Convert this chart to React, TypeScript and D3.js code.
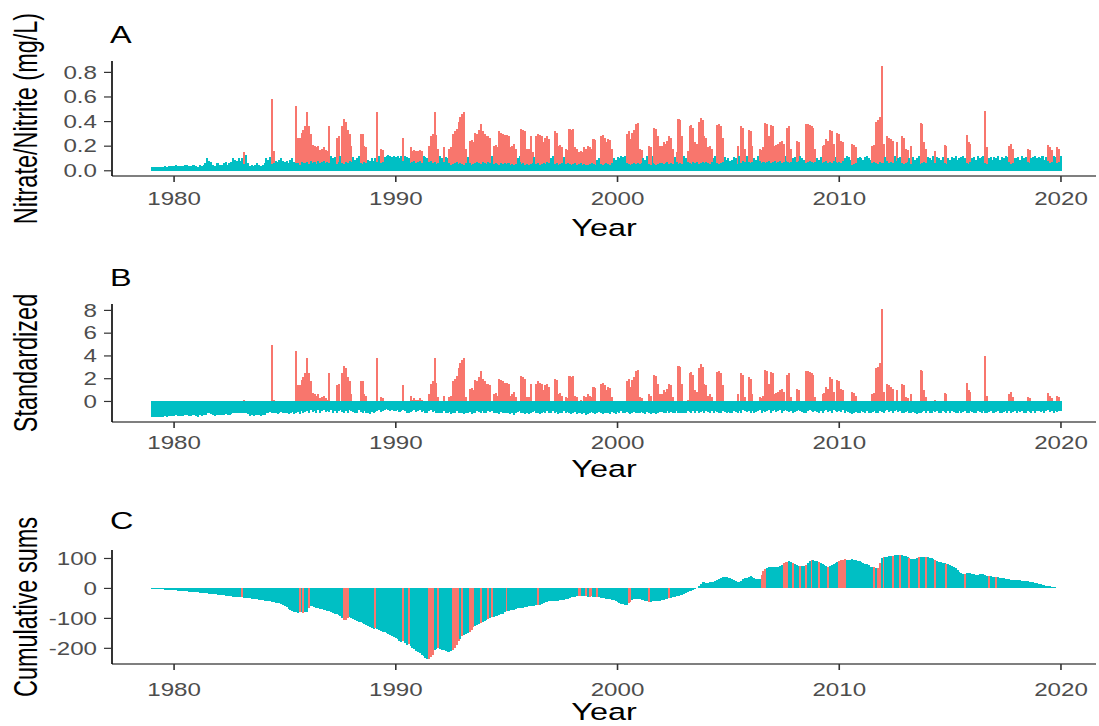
import React from "react";
import * as d3 from "d3";

// monthly series, Jan 1979 .. Jan 2020, one row per year
const startYear = 1979;

// highest sample of each month (mg/L)
const nitrateHigh: number[][] = [
  [0.03,0.03,0.03,0.03,0.03,0.03,0.03,0.04,0.03,0.04,0.04,0.04],
  [0.04,0.05,0.04,0.04,0.04,0.04,0.05,0.05,0.04,0.04,0.05,0.05],
  [0.04,0.03,0.05,0.04,0.05,0.06,0.10,0.08,0.07,0.05,0.04,0.06],
  [0.06,0.05,0.05,0.06,0.07,0.05,0.06,0.07,0.10,0.09,0.08,0.10],
  [0.08,0.10,0.155,0.13,0.06,0.04,0.05,0.04,0.05,0.06,0.05,0.04],
  [0.05,0.06,0.10,0.09,0.11,0.58,0.16,0.08,0.07,0.09,0.10,0.08],
  [0.07,0.08,0.06,0.09,0.10,0.07,0.53,0.27,0.27,0.31,0.33,0.36],
  [0.48,0.36,0.30,0.21,0.20,0.19,0.20,0.17,0.18,0.19,0.17,0.16],
  [0.36,0.12,0.10,0.11,0.27,0.28,0.12,0.36,0.42,0.40,0.33,0.30],
  [0.20,0.11,0.09,0.10,0.12,0.30,0.30,0.20,0.19,0.09,0.08,0.10],
  [0.08,0.10,0.48,0.12,0.18,0.17,0.11,0.12,0.13,0.12,0.11,0.12],
  [0.11,0.12,0.10,0.12,0.27,0.12,0.11,0.10,0.19,0.16,0.17,0.16],
  [0.16,0.17,0.16,0.12,0.11,0.10,0.20,0.28,0.30,0.48,0.29,0.18],
  [0.12,0.10,0.19,0.11,0.10,0.18,0.19,0.30,0.32,0.34,0.40,0.44],
  [0.46,0.48,0.18,0.11,0.24,0.25,0.23,0.31,0.30,0.33,0.38,0.32],
  [0.30,0.28,0.28,0.27,0.12,0.20,0.21,0.19,0.32,0.31,0.30,0.29],
  [0.29,0.28,0.19,0.20,0.22,0.18,0.10,0.12,0.34,0.33,0.32,0.18],
  [0.18,0.28,0.15,0.11,0.28,0.30,0.29,0.28,0.23,0.27,0.28,0.26],
  [0.10,0.12,0.32,0.31,0.20,0.21,0.19,0.11,0.18,0.17,0.34,0.33],
  [0.34,0.19,0.18,0.15,0.16,0.15,0.19,0.18,0.20,0.19,0.18,0.26],
  [0.25,0.09,0.10,0.28,0.29,0.27,0.23,0.26,0.25,0.18,0.10,0.09],
  [0.11,0.10,0.12,0.11,0.12,0.30,0.32,0.26,0.31,0.33,0.38,0.39],
  [0.18,0.17,0.10,0.09,0.12,0.20,0.19,0.12,0.35,0.34,0.28,0.20],
  [0.20,0.23,0.22,0.24,0.28,0.27,0.18,0.11,0.15,0.42,0.41,0.28],
  [0.12,0.10,0.16,0.36,0.37,0.35,0.23,0.22,0.40,0.43,0.41,0.28],
  [0.27,0.19,0.20,0.18,0.10,0.12,0.37,0.38,0.36,0.27,0.11,0.09],
  [0.10,0.08,0.09,0.11,0.10,0.20,0.12,0.36,0.35,0.18,0.12,0.33],
  [0.32,0.20,0.10,0.09,0.12,0.18,0.17,0.19,0.39,0.38,0.28,0.37],
  [0.36,0.20,0.21,0.22,0.23,0.24,0.22,0.12,0.35,0.36,0.18,0.10],
  [0.11,0.24,0.23,0.12,0.10,0.09,0.38,0.38,0.37,0.36,0.35,0.18],
  [0.10,0.09,0.11,0.20,0.21,0.26,0.24,0.33,0.32,0.22,0.11,0.31],
  [0.30,0.24,0.23,0.10,0.12,0.11,0.09,0.22,0.21,0.19,0.10,0.11],
  [0.10,0.09,0.11,0.12,0.10,0.09,0.20,0.21,0.40,0.41,0.44,0.85],
  [0.22,0.11,0.28,0.27,0.26,0.24,0.12,0.23,0.10,0.11,0.28,0.27],
  [0.18,0.17,0.10,0.20,0.11,0.09,0.10,0.12,0.39,0.38,0.23,0.18],
  [0.11,0.10,0.09,0.12,0.16,0.11,0.10,0.09,0.11,0.21,0.20,0.10],
  [0.09,0.11,0.10,0.12,0.09,0.10,0.11,0.12,0.10,0.29,0.23,0.22],
  [0.10,0.11,0.09,0.12,0.10,0.11,0.12,0.49,0.19,0.10,0.11,0.09],
  [0.11,0.10,0.12,0.09,0.11,0.10,0.12,0.11,0.20,0.22,0.18,0.10],
  [0.10,0.11,0.09,0.12,0.10,0.11,0.18,0.17,0.10,0.11,0.12,0.10],
  [0.11,0.10,0.12,0.09,0.11,0.21,0.19,0.17,0.12,0.11,0.19,0.18],
  [0.12],
];

// lowest sample of each month (mg/L)
const nitrateLow: number[][] = [
  [0.03,0.03,0.03,0.03,0.03,0.03,0.03,0.035,0.03,0.035,0.035,0.035],
  [0.035,0.04,0.035,0.035,0.035,0.035,0.04,0.04,0.035,0.035,0.04,0.04],
  [0.035,0.03,0.04,0.035,0.04,0.045,0.06,0.055,0.05,0.04,0.035,0.045],
  [0.045,0.04,0.04,0.045,0.05,0.04,0.045,0.05,0.06,0.06,0.055,0.06],
  [0.055,0.06,0.055,0.06,0.05,0.035,0.04,0.035,0.04,0.045,0.04,0.035],
  [0.04,0.045,0.06,0.055,0.065,0.055,0.06,0.055,0.05,0.06,0.065,0.055],
  [0.055,0.06,0.05,0.06,0.065,0.05,0.06,0.065,0.05,0.075,0.06,0.065],
  [0.07,0.055,0.08,0.065,0.07,0.055,0.08,0.06,0.07,0.08,0.065,0.07],
  [0.065,0.08,0.06,0.07,0.055,0.07,0.08,0.065,0.055,0.07,0.06,0.08],
  [0.07,0.065,0.055,0.06,0.08,0.065,0.055,0.07,0.06,0.055,0.05,0.065],
  [0.055,0.065,0.07,0.08,0.065,0.07,0.08,0.085,0.08,0.07,0.08,0.07],
  [0.07,0.08,0.065,0.07,0.08,0.07,0.06,0.055,0.065,0.07,0.08,0.065],
  [0.07,0.08,0.065,0.07,0.06,0.055,0.07,0.08,0.065,0.07,0.055,0.06],
  [0.06,0.055,0.07,0.06,0.055,0.065,0.05,0.055,0.06,0.07,0.055,0.06],
  [0.055,0.05,0.06,0.055,0.065,0.05,0.055,0.06,0.07,0.065,0.055,0.07],
  [0.06,0.055,0.07,0.065,0.07,0.055,0.06,0.055,0.05,0.065,0.055,0.06],
  [0.055,0.06,0.05,0.055,0.045,0.055,0.065,0.07,0.055,0.06,0.05,0.055],
  [0.05,0.055,0.065,0.07,0.055,0.06,0.05,0.055,0.065,0.055,0.07,0.06],
  [0.06,0.07,0.055,0.065,0.05,0.055,0.06,0.07,0.055,0.065,0.055,0.05],
  [0.055,0.065,0.05,0.055,0.06,0.05,0.055,0.045,0.05,0.055,0.065,0.055],
  [0.05,0.055,0.065,0.055,0.05,0.055,0.06,0.055,0.05,0.065,0.055,0.05],
  [0.065,0.055,0.07,0.06,0.055,0.065,0.055,0.05,0.055,0.065,0.055,0.06],
  [0.055,0.065,0.055,0.05,0.065,0.055,0.05,0.06,0.055,0.05,0.055,0.065],
  [0.065,0.055,0.06,0.07,0.055,0.065,0.055,0.06,0.07,0.055,0.06,0.055],
  [0.06,0.055,0.07,0.065,0.055,0.07,0.06,0.07,0.055,0.065,0.07,0.06],
  [0.07,0.065,0.055,0.07,0.06,0.07,0.065,0.055,0.06,0.07,0.065,0.055],
  [0.065,0.055,0.06,0.07,0.065,0.055,0.07,0.06,0.08,0.07,0.065,0.07],
  [0.06,0.07,0.055,0.065,0.07,0.08,0.06,0.07,0.065,0.07,0.08,0.06],
  [0.07,0.08,0.065,0.07,0.08,0.06,0.07,0.08,0.07,0.065,0.07,0.055],
  [0.065,0.07,0.08,0.07,0.065,0.055,0.06,0.07,0.08,0.07,0.065,0.07],
  [0.065,0.055,0.07,0.06,0.07,0.08,0.065,0.07,0.06,0.08,0.07,0.065],
  [0.07,0.065,0.08,0.06,0.07,0.065,0.055,0.05,0.055,0.065,0.055,0.06],
  [0.07,0.065,0.055,0.07,0.06,0.055,0.065,0.07,0.06,0.055,0.07,0.065],
  [0.06,0.07,0.08,0.065,0.07,0.06,0.07,0.08,0.065,0.07,0.06,0.055],
  [0.065,0.07,0.06,0.055,0.065,0.055,0.05,0.06,0.055,0.065,0.07,0.06],
  [0.07,0.06,0.055,0.07,0.065,0.07,0.06,0.055,0.07,0.065,0.055,0.07],
  [0.06,0.07,0.065,0.055,0.06,0.07,0.055,0.065,0.07,0.06,0.055,0.07],
  [0.065,0.055,0.06,0.07,0.065,0.055,0.07,0.06,0.055,0.065,0.07,0.06],
  [0.055,0.065,0.07,0.06,0.055,0.065,0.07,0.06,0.07,0.055,0.065,0.07],
  [0.06,0.07,0.065,0.07,0.055,0.06,0.07,0.065,0.055,0.07,0.06,0.07],
  [0.07,0.065,0.07,0.06,0.07,0.08,0.065,0.07,0.06,0.07,0.065,0.07],
  [0.07],
];

// cumulative sums (panel C)
const cusum: number[][] = [
  [-0.4,-0.8,-1.2,-1.7,-2.1,-2.6,-3.1,-3.6,-4.1,-4.6,-5.1,-5.6],
  [-6.1,-6.7,-7.2,-7.8,-8.3,-8.9,-9.4,-10.0,-10.6,-11.1,-11.7,-12.2],
  [-12.8,-13.4,-14.0,-14.7,-15.3,-16.0,-16.7,-17.4,-18.1,-18.8,-19.5,-20.2],
  [-20.9,-21.6,-22.4,-23.1,-23.9,-24.6,-25.4,-26.2,-27.0,-27.8,-28.6,-29.4],
  [-30.2,-29.5,-30.3,-31.2,-32.1,-33.0,-33.9,-34.8,-35.7,-36.6,-37.5,-38.4],
  [-39.4,-40.4,-41.4,-42.5,-43.6,-44.7,-45.8,-47.0,-48.2,-49.5,-51.5,-54.0],
  [-58,-63,-68,-73,-77,-80,-80,-81,-79,-80,-81,-79],
  [-80,-66,-58,-60,-62,-64,-66,-68,-69,-71,-73,-75],
  [-77,-79,-81,-84,-87,-90,-93,-100,-106,-105,-100,-94],
  [-99,-103,-107,-109,-111,-113,-116,-119,-122,-125,-129,-132],
  [-136,-132,-136,-139,-141,-144,-147,-149,-152,-155,-158,-161],
  [-165,-170,-175,-180,-177,-183,-190,-187,-193,-198,-203,-208],
  [-212,-216,-221,-226,-231,-234,-235,-229,-222,-206,-202,-200],
  [-202,-204,-207,-210,-213,-212,-210,-207,-200,-188,-175,-170],
  [-160,-156,-152,-150,-146,-138,-130,-124,-122,-120,-116,-113],
  [-108,-104,-103,-100,-96,-95,-93,-92,-89,-87,-86,-80],
  [-76,-74,-73,-72,-71,-68,-67,-66,-65,-64,-63,-62],
  [-60,-58,-57,-57,-56,-54,-55,-53,-49,-46,-44,-43],
  [-43,-42,-42,-41,-41,-40,-39,-37,-35,-34,-32,-30],
  [-28,-27,-25,-24,-24,-25,-26,-26,-27,-27,-25,-27],
  [-28,-29,-30,-31,-32,-33,-34,-35,-36,-38,-40,-43],
  [-46,-49,-52,-53,-54,-54,-50,-44,-38,-35,-35,-35],
  [-36,-37,-39,-41,-43,-45,-44,-43,-43,-42,-41,-41],
  [-40,-38,-36,-34,-32,-31,-30,-28,-26,-24,-23,-21],
  [-18,-15,-13,-10,-7,-4,-2,3,9,15,20,20],
  [19,19,20,21,23,26,29,31,34,37,39,38],
  [36,34,31,29,26,23,22,25,30,34,36,38],
  [40,39,36,33,31,30,44,58,64,68,71,73],
  [72,71,70,70,74,79,84,87,89,90,89,86],
  [82,79,76,76,75,76,78,84,90,96,95,93],
  [91,89,86,82,78,74,73,75,78,81,85,89],
  [92,94,96,97,96,95,96,97,96,95,93,91],
  [89,86,83,80,77,73,70,70,69,68,86,103],
  [104,105,106,107,108,109,110,111,111,111,110,109],
  [107,104,101,98,97,98,101,104,106,106,105,104],
  [104,103,100,97,94,91,89,87,85,84,83,82],
  [78,74,71,67,62,56,50,48,49,52,53,51],
  [49,47,45,46,47,48,47,45,43,42,41,39],
  [39,38,37,35,34,34,33,32,30,29,28,28],
  [28,27,27,26,26,25,24,23,21,20,19,18],
  [16,14,12,11,9,8,7,6,5,4,3,3],
  [2],
];

// months drawn red in panel C
const cusumRed = [
  "1983-02","1985-09","1985-11","1986-02","1987-09","1987-10","1987-11","1989-02",
  "1990-05","1990-08","1991-07","1991-08","1991-09","1991-12","1992-08","1992-09",
  "1992-10","1992-11","1993-01","1993-05","1993-06","1993-07","1993-11","1994-03",
  "1994-05","1995-01","1996-06","1998-04","1998-05","1998-08","1998-10","1998-11",
  "1999-02","2000-07","2000-08","2001-06","2002-05","2006-07","2006-08","2006-09",
  "2007-07","2007-08","2007-09","2007-12","2008-04","2008-07","2008-10","2009-02",
  "2009-07","2010-01","2010-02","2010-03","2010-04","2011-08","2011-10","2011-11",
  "2012-01","2012-06","2012-10","2013-03","2013-08","2013-12","2014-05","2014-11",
  "2015-09","2016-10","2017-02",
];

// standardisation used in panel B
const standardMean = 0.146;
const standardSd = 0.087;

const yearTicks = [1980, 1990, 2000, 2010, 2020];
const ticksA = [0, 0.2, 0.4, 0.6, 0.8];
const ticksB = [0, 2, 4, 6, 8];
const ticksC = [-200, -100, 0, 100];
const xLimits = [1977.2, 2021.58];

const RED = "#F8766D";
const TEAL = "#00BFC4";
const FONT = "'Liberation Sans', Arial, Helvetica, sans-serif";
const STRETCH = 1.38; // the reference is widened horizontally

const left = 112;
const right = 1096;

const x = d3.scaleLinear().domain(xLimits).range([left, right]);
const step = x(startYear + 1 / 12) - x(startYear);
const barW = step * 1.1;

const expand = (lo: number, hi: number) => {
  const pad = (hi - lo) * 0.05;
  return [lo - pad, hi + pad];
};

const high = nitrateHigh.flat();
const low = nitrateLow.flat();
const cs = cusum.flat();
const months = high.map((v, i) => {
  const y = startYear + Math.floor(i / 12);
  const m = (i % 12) + 1;
  const hi = Math.max(v, low[i]);
  const lo = Math.min(v, low[i]);
  return {
    t: startYear + i / 12,
    key: `${y}-${m < 10 ? "0" + m : m}`,
    hi,
    lo,
    zHi: (hi - standardMean) / standardSd,
    zLo: (lo - standardMean) / standardSd,
    c: cs[i],
  };
});
const redSet = new Set(cusumRed);

type PanelProps = {
  top: number;
  bottom: number;
  y: d3.ScaleLinear<number, number>;
  yTicks: number[];
  fmt: (d: number) => string;
  tag: string;
  tagY: number;
  tickLabelY: number;
  titleY: number;
  yTitle: string;
  children?: React.ReactNode;
};

function Panel(p: PanelProps) {
  const mid = (p.top + p.bottom) / 2;
  return (
    <g>
      <g shapeRendering="crispEdges">{p.children}</g>
      <text
        transform={`translate(${left - 2},${p.tagY}) scale(${STRETCH},1)`}
        fontSize={23.5}
        fill="#000"
      >
        {p.tag}
      </text>
      <line x1={left} x2={right} y1={p.bottom} y2={p.bottom} stroke="#000" strokeWidth={1.2} />
      <line x1={left} x2={left} y1={p.top} y2={p.bottom} stroke="#000" strokeWidth={1.6} />
      {p.yTicks.map((t) => (
        <g key={t}>
          <line x1={left - 8} x2={left} y1={p.y(t)} y2={p.y(t)} stroke="#333" strokeWidth={1.2} />
          <text
            transform={`translate(${left - 15},${p.y(t)}) scale(${STRETCH},1)`}
            textAnchor="end"
            dy="0.36em"
            fontSize={17.5}
            fill="#4D4D4D"
          >
            {p.fmt(t)}
          </text>
        </g>
      ))}
      {yearTicks.map((t) => (
        <g key={t}>
          <line x1={x(t)} x2={x(t)} y1={p.bottom} y2={p.bottom + 6} stroke="#333" strokeWidth={1.6} />
          <text
            transform={`translate(${x(t)},${p.tickLabelY}) scale(${STRETCH},1)`}
            textAnchor="middle"
            fontSize={17.5}
            fill="#4D4D4D"
          >
            {t}
          </text>
        </g>
      ))}
      <text
        transform={`translate(${(left + right) / 2},${p.titleY}) scale(${STRETCH},1)`}
        textAnchor="middle"
        fontSize={23.5}
        fill="#000"
      >
        Year
      </text>
      <text
        transform={`translate(36.5,${mid}) scale(${STRETCH},1) rotate(-90)`}
        textAnchor="middle"
        fontSize={23.5}
        fill="#000"
      >
        {p.yTitle}
      </text>
    </g>
  );
}

export default function App() {
  // panel A
  const topA = 61, botA = 176;
  const yA = d3
    .scaleLinear()
    .domain(expand(0, d3.max(months, (d) => d.hi)!))
    .range([botA, topA]);

  // panel B
  const topB = 304, botB = 422;
  const yB = d3
    .scaleLinear()
    .domain(expand(Math.min(0, d3.min(months, (d) => d.zLo)!), d3.max(months, (d) => d.zHi)!))
    .range([botB, topB]);

  // panel C
  const topC = 550, botC = 664;
  const yC = d3
    .scaleLinear()
    .domain(expand(Math.min(0, d3.min(months, (d) => d.c)!), Math.max(0, d3.max(months, (d) => d.c)!)))
    .range([botC, topC]);

  const bar = (t: number, v: number, y: d3.ScaleLinear<number, number>, fill: string, k: string) => {
    const y0 = y(0), y1 = y(v);
    return (
      <rect
        key={k}
        x={x(t) - barW / 2}
        width={barW}
        y={Math.min(y0, y1)}
        height={Math.abs(y1 - y0)}
        fill={fill}
      />
    );
  };

  return (
    <svg
      width={1099}
      height={726}
      style={{ position: "absolute", left: 0, top: 0, background: "#fff" }}
      fontFamily={FONT}
    >
      <rect width={1099} height={726} fill="#fff" />

      <Panel top={topA} bottom={botA} y={yA} yTicks={ticksA} fmt={(d) => d.toFixed(1)}
        tag="A" tagY={43} tickLabelY={205} titleY={236} yTitle="Nitrate/Nitrite (mg/L)">
        {months.map((d, i) => bar(d.t, d.hi, yA, d.hi > standardMean ? RED : TEAL, "ah" + i))}
        {months.map((d, i) => bar(d.t, d.lo, yA, d.lo > standardMean ? RED : TEAL, "al" + i))}
      </Panel>

      <Panel top={topB} bottom={botB} y={yB} yTicks={ticksB} fmt={(d) => String(d)}
        tag="B" tagY={286} tickLabelY={449} titleY={477} yTitle="Standardized">
        {months.map((d, i) => bar(d.t, d.zHi, yB, d.zHi > 0 ? RED : TEAL, "bh" + i))}
        {months.map((d, i) => bar(d.t, d.zLo, yB, d.zLo > 0 ? RED : TEAL, "bl" + i))}
      </Panel>

      <Panel top={topC} bottom={botC} y={yC} yTicks={ticksC} fmt={(d) => String(d)}
        tag="C" tagY={529} tickLabelY={696} titleY={720} yTitle="Cumulative sums">
        {months.map((d, i) => bar(d.t, d.c, yC, redSet.has(d.key) ? RED : TEAL, "c" + i))}
      </Panel>
    </svg>
  );
}
